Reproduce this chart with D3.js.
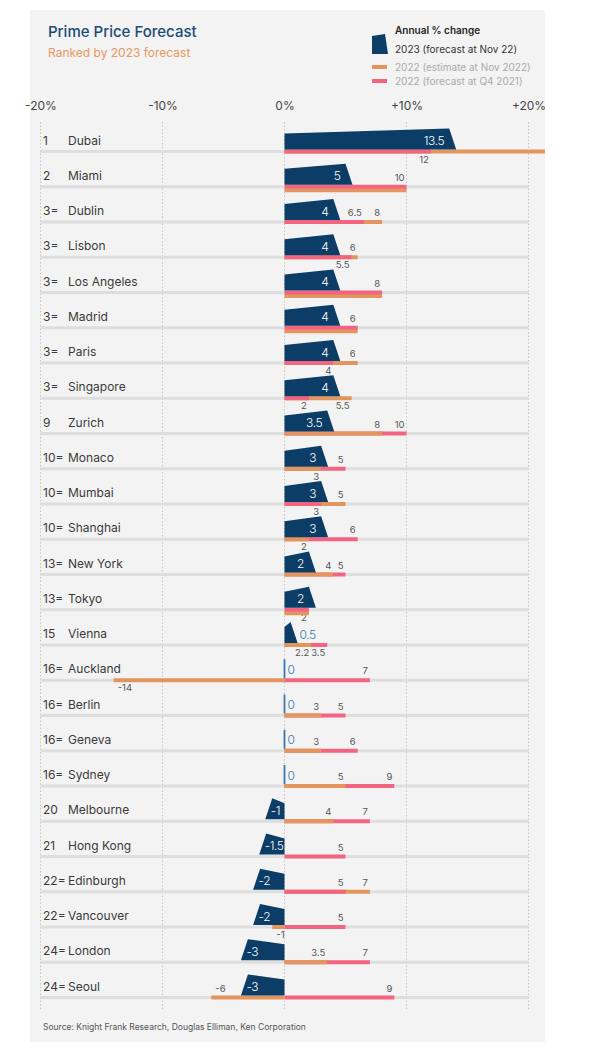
<!DOCTYPE html>
<html>
<head>
<meta charset="utf-8">
<script src="https://cdn.jsdelivr.net/npm/d3@7"></script>
<style>
  body { margin: 0; background: #fff; font-family: Inter, "Open Sans", sans-serif; }
  svg text { font-family: Inter, "Open Sans", sans-serif; }
</style>
</head>
<body>
<div id="viz"></div>
<script>
// chart data
const ranks = ["1", "2", "3=", "3=", "3=", "3=", "3=", "3=", "9", "10=", "10=", "10=", "13=", "13=", "15",
  "16=", "16=", "16=", "16=", "20", "21", "22=", "22=", "24=", "24="];
const cities = ["Dubai", "Miami", "Dublin", "Lisbon", "Los Angeles", "Madrid", "Paris", "Singapore", "Zurich",
  "Monaco", "Mumbai", "Shanghai", "New York", "Tokyo", "Vienna", "Auckland", "Berlin", "Geneva", "Sydney",
  "Melbourne", "Hong Kong", "Edinburgh", "Vancouver", "London", "Seoul"];
// 2023 (forecast at Nov 22)
const forecast2023 = [13.5, 5, 4, 4, 4, 4, 4, 4, 3.5, 3, 3, 3, 2, 2, 0.5, 0, 0, 0, 0, -1, -1.5, -2, -2, -3, -3];
// 2022 (estimate at Nov 2022)
const estimate2022 = [44, 10, 8, 6, 8, 6, 6, 5.5, 8, 3, 5, 2, 4, 2, 2.2, -14, 3, 3, 5, 4, null, 7, -1, 3.5, -6];
// 2022 (forecast at Q4 2021)
const forecast2022 = [12, 10, 6.5, 5.5, 8, 6, 4, 2, 10, 5, 3, 6, 5, 2, 3.5, 7, 5, 6, 9, 7, 5, 5, 5, 7, 9];
const ticks = [-20, -10, 0, 10, 20];

const W = 597, H = 1053;
const navy = "#0b3d66", orange = "#e2955d", pink = "#f2647f", zeroBlue = "#3a78b0";

const svg = d3.select("#viz").append("svg")
    .attr("width", W).attr("height", H);

// panel
svg.append("rect").attr("x", 30).attr("y", 10).attr("width", 515).attr("height", 1032).attr("fill", "#f3f3f3");
svg.append("clipPath").attr("id", "panel")
  .append("rect").attr("x", 30).attr("y", 10).attr("width", 515).attr("height", 1032);

// titles
svg.append("text").attr("x", 48).attr("y", 37).attr("font-size", 15).attr("font-weight", 500)
    .attr("fill", "#1b4a78").text("Prime Price Forecast");
svg.append("text").attr("x", 48).attr("y", 57).attr("font-size", 12)
    .attr("fill", "#e8975d").text("Ranked by 2023 forecast");

// legend
const lg = svg.append("g");
lg.append("text").attr("x", 395).attr("y", 34).attr("font-size", 10).attr("font-weight", 600)
    .attr("fill", "#222").text("Annual % change");
lg.append("polygon").attr("points", "372,54 372,36 385,34 388,54").attr("fill", navy);
lg.append("text").attr("x", 395).attr("y", 53).attr("font-size", 10).attr("fill", "#333")
    .text("2023 (forecast at Nov 22)");
lg.append("rect").attr("x", 372).attr("y", 65).attr("width", 15).attr("height", 4).attr("fill", orange);
lg.append("text").attr("x", 395).attr("y", 70.5).attr("font-size", 10).attr("fill", "#aaa")
    .text("2022 (estimate at Nov 2022)");
lg.append("rect").attr("x", 372).attr("y", 79).attr("width", 15).attr("height", 4).attr("fill", pink);
lg.append("text").attr("x", 395).attr("y", 84.5).attr("font-size", 10).attr("fill", "#aaa")
    .text("2022 (forecast at Q4 2021)");

// scales
const x = d3.scaleLinear().domain([-20, 20]).range([40.5, 528.5]);
const y = d3.scalePoint().domain(cities).range([151.5, 997.5]);

// axis labels on top
const axis = svg.append("g")
    .attr("transform", "translate(0,108)")
    .call(d3.axisTop(x).tickValues(ticks).tickSize(0)
      .tickFormat(d => (d > 0 ? "+" : "") + d + "%"));
axis.select(".domain").remove();
axis.selectAll("text").attr("font-size", 12).attr("fill", "#444")
    .attr("font-family", "Inter, sans-serif").attr("dy", "0.4em");

// dotted grid lines
svg.append("g").selectAll("line").data(ticks).join("line")
    .attr("x1", d => x(d)).attr("x2", d => x(d))
    .attr("y1", 122).attr("y2", 1009)
    .attr("stroke", "#c6c6c6").attr("stroke-width", 1).attr("stroke-dasharray", "1.5,2");

const rows = cities.map((c, i) => ({
  i, city: c, rank: ranks[i], d: forecast2023[i], est: estimate2022[i], fc: forecast2022[i]
}));

const row = svg.append("g").selectAll("g").data(rows).join("g")
    .attr("transform", d => `translate(0,${y(d.city)})`);

// grey row line
row.append("rect").attr("x", x(-20)).attr("y", -1.5).attr("width", x(20) - x(-20)).attr("height", 3)
    .attr("fill", "#dedede");

// rank and city name
row.append("text").attr("x", 43).attr("y", -7).attr("font-size", 12).attr("fill", "#3a3a3a").text(d => d.rank);
row.append("text").attr("class", "name").attr("x", 68).attr("y", -7).attr("font-size", 12)
    .attr("fill", "#3a3a3a").text(d => d.city);

const slant = 7, hIn = 16, hOut = 21, base = -2;

// thin bars, longer first so the shorter sits on top; clipped to the panel
const barG = svg.append("g").attr("clip-path", "url(#panel)");
rows.forEach(d => {
  const bars = [];
  if (d.est != null) bars.push({ v: d.est, c: orange, key: "est" });
  if (d.fc != null) bars.push({ v: d.fc, c: pink, key: "fc" });
  bars.sort((a, b) => Math.abs(b.v) - Math.abs(a.v));
  const same = d.est != null && d.fc != null && d.est === d.fc;
  barG.selectAll(null).data(bars).join("rect")
    .attr("x", b => Math.min(x(0), x(b.v)))
    .attr("y", b => y(d.city) - 2 + (same && b.key === "est" ? 3.5 : 0))
    .attr("width", b => Math.abs(x(b.v) - x(0)))
    .attr("height", 4)
    .attr("fill", b => b.c);
});

// 2023 flag shape
const flagG = svg.append("g");
rows.forEach(d => {
  const g = flagG.append("g").attr("class", "flag").attr("transform", `translate(0,${y(d.city)})`);
  const x0 = x(0), xv = x(d.d);
  if (d.d === 0) {
    g.append("line").attr("x1", x0).attr("x2", x0).attr("y1", base).attr("y2", base - 19)
      .attr("stroke", zeroBlue).attr("stroke-width", 1.8);
  } else {
    const s = d.d > 0 ? slant : -slant;
    g.append("polygon")
      .attr("points", [[x0, base], [x0, base - hIn], [xv, base - hOut], [xv + s, base]].join(" "))
      .attr("fill", navy);
  }
  const small = Math.abs(d.d) < 1;
  const lab = g.append("text").attr("class", "dlab").attr("y", -6.5).attr("font-size", 12)
      .attr("font-weight", 300).attr("letter-spacing", -0.4).text(d.d);
  if (small) {
    lab.attr("x", d.d === 0 ? x0 + 3 : xv + slant + 2).attr("text-anchor", "start").attr("fill", zeroBlue);
  } else if (d.d > 0) {
    lab.attr("x", xv - 5).attr("text-anchor", "end").attr("fill", "#fff");
  } else {
    lab.attr("x", xv - 1.5).attr("text-anchor", "start").attr("fill", "#fff");
  }
  d.dlab = lab.node();
});

// value labels for the 2022 bars: above unless they would hit something
row.each(function(d) {
  const g = d3.select(this);
  const nameBox = g.select(".name").node().getBBox();
  const dBox = d.dlab.getBBox();
  const x0 = x(0), xv = x(d.d);
  // occupied spans on the upper side of the line
  const busy = [[nameBox.x, nameBox.x + nameBox.width]];
  if (d.d > 0) busy.push([x0, xv + slant]);
  else if (d.d < 0) busy.push([xv - slant, x0]);
  busy.push([dBox.x, dBox.x + dBox.width]);

  let vals = [];
  if (d.est != null) vals.push(d.est);
  if (d.fc != null && !(d.est === d.fc)) vals.push(d.fc);
  vals = vals.filter(v => v <= 20 && v >= -20);
  vals.sort((a, b) => Math.abs(a) - Math.abs(b));

  const placed = vals.map(v => {
    const t = String(v);
    const w = t.length * 5.3;
    const span = v >= 0 ? [x(v) - 2 - w, x(v) - 2] : [x(v) + 4, x(v) + 4 + w];
    const hit = busy.some(b => span[0] < b[1] + 3 && span[1] > b[0] - 3);
    return { v, t, span, above: !hit };
  });
  // two labels above that overlap: push the shorter one below
  if (placed.length === 2 && placed[0].above && placed[1].above &&
      placed[0].span[1] + 3 > placed[1].span[0] && placed[0].span[0] < placed[1].span[1] + 3) {
    placed[0].above = false;
  }
  placed.forEach(p => {
    g.append("text")
      .attr("x", p.v >= 0 ? x(p.v) - 2 : x(p.v) + 4)
      .attr("y", p.above ? -6 : 11)
      .attr("text-anchor", p.v >= 0 ? "end" : "start")
      .attr("font-size", 9.5).attr("fill", "#555").text(p.t);
  });
});

// source
svg.append("text").attr("x", 43).attr("y", 1030).attr("font-size", 8.5).attr("fill", "#555")
    .text("Source: Knight Frank Research, Douglas Elliman, Ken Corporation");
</script>
</body>
</html>
